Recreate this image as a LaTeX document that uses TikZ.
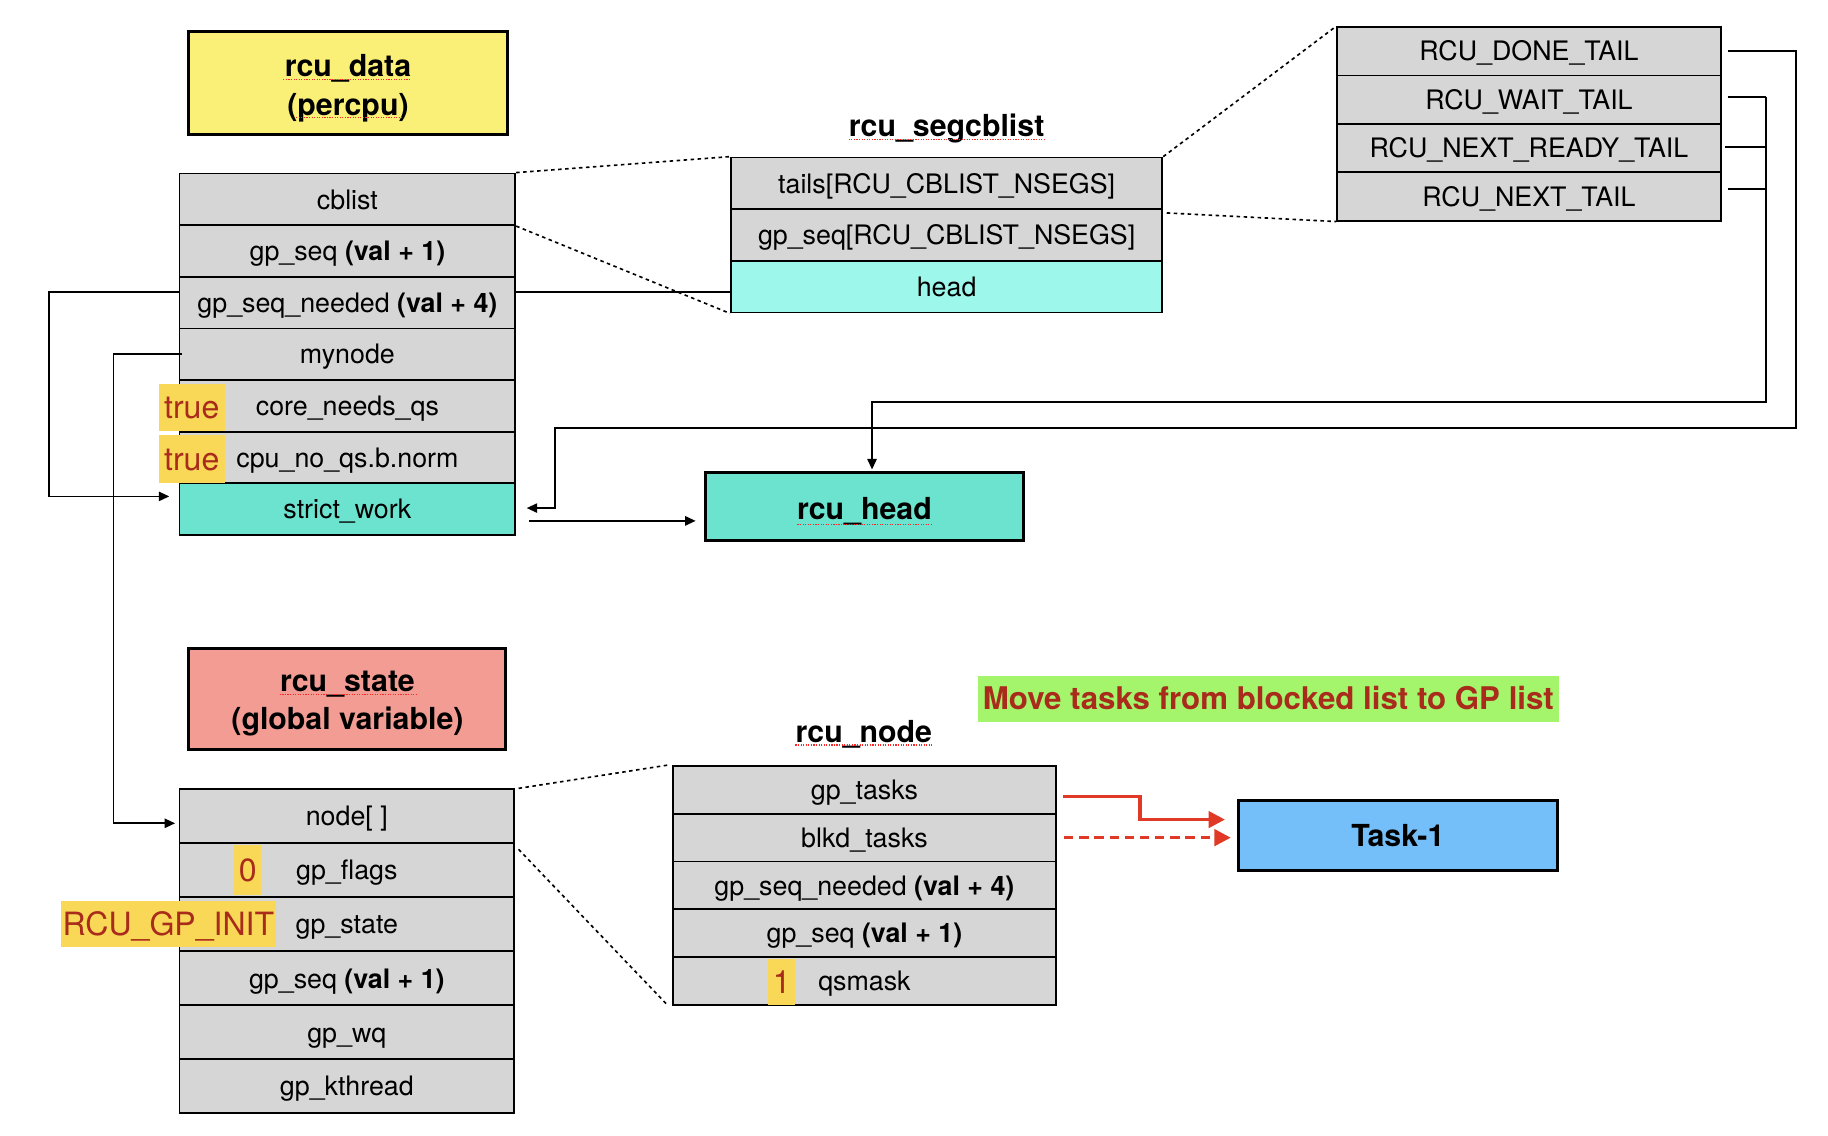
\documentclass[tikz,border=0pt]{standalone}
\usepackage{fontspec}
\setmainfont{TeX Gyre Heros}
\usetikzlibrary{arrows.meta}
\definecolor{rowgray}{HTML}{D6D6D6}
\definecolor{datayellow}{HTML}{FBF077}
\definecolor{hlyellow}{HTML}{F8D856}
\definecolor{darkred}{HTML}{A82B1B}
\definecolor{strictcyan}{HTML}{6BE3CF}
\definecolor{headcyan}{HTML}{9DF7EA}
\definecolor{salmon}{HTML}{F29C93}
\definecolor{lgreen}{HTML}{A4F56C}
\definecolor{taskblue}{HTML}{74BFF9}
\definecolor{arrred}{HTML}{E03A27}
\newcommand\rowfont{\fontsize{23}{27}\selectfont}
\newcommand\titlefont{\fontsize{26}{33}\selectfont\bfseries}
\newcommand\hlfont{\fontsize{27.5}{30}\selectfont}
\tikzset{
  row/.style={draw, line width=1.6pt, fill=rowgray, inner sep=0pt, font=\rowfont, text=black, text height=21pt, text depth=4.4pt},
  titlebox/.style={draw, line width=2.6pt, inner sep=0pt, font=\titlefont, align=center},
  titletext/.style={inner sep=0pt, font=\titlefont, align=center},
  lbl/.style={inner sep=0pt, font=\titlefont},
  hl/.style={fill=hlyellow, inner sep=0pt, text=darkred, font=\hlfont, text height=24pt, text depth=4.2pt},
  conn/.style={line width=1.4pt},
  arr/.style={conn, -{Triangle[length=9pt,width=8pt]}},
  dots/.style={line width=1.4pt, dash pattern=on 3pt off 3pt},
  redarr/.style={line width=3pt, draw=arrred, -{Triangle[length=14pt,width=14pt]}, arrred},
  squig/.style={draw=red!85, line width=1pt, dash pattern=on 1pt off 1.2pt}
}
\begin{document}
\begin{tikzpicture}[x=1pt,y=-1pt]
\useasboundingbox[fill=white] (0,0) rectangle (1568,974);

% ---------- rcu_data ----------
\node[titlebox, fill=datayellow, minimum width=273pt, minimum height=88pt] (rdata) at (298.5,71) {};
\node[titletext] (rdatatxt) at ([yshift=-4.5pt]rdata.center) {rcu\_data\\(percpu)};

\node[row, minimum width=288pt, minimum height=44.3pt] (cb) at (298,171) {cblist};
\node[row, minimum width=288pt, minimum height=44.3pt] (dgpseq) at (298,215.3) {gp\_seq \textbf{(val + 1)}};
\node[row, minimum width=288pt, minimum height=44.3pt] (needed) at (298,259.6) {gp\_seq\_needed \textbf{(val + 4)}};
\node[row, minimum width=288pt, minimum height=44.3pt] (mynode) at (298,303.9) {mynode};
\node[row, minimum width=288pt, minimum height=44.3pt] (coreqs) at (298,348.2) {core\_needs\_qs};
\node[row, minimum width=288pt, minimum height=44.3pt] (noqs) at (298,392.5) {cpu\_no\_qs.b.norm};
\node[row, fill=strictcyan, minimum width=288pt, minimum height=44.3pt] (strict) at (298,436.8) {strict\_work};

\node[hl, minimum width=57pt, minimum height=41pt] (true1) at (164.5,349.5) {true};
\node[hl, minimum width=57pt, minimum height=41pt] (true2) at (164.5,393.5) {true};

% ---------- rcu_segcblist ----------
\node[lbl] (segl) at (812,110.5) {rcu\_segcblist};
\node[row, minimum width=370pt, minimum height=44.3pt] (stails) at (812,157.3) {tails[RCU\_CBLIST\_NSEGS]};
\node[row, minimum width=370pt, minimum height=44.3pt] (sgpseq) at (812,201.6) {gp\_seq[RCU\_CBLIST\_NSEGS]};
\node[row, fill=headcyan, minimum width=370pt, minimum height=44.3pt] (shead) at (812,245.9) {head};

% ---------- tails ----------
\node[row, minimum width=329pt, minimum height=41.5pt] (done) at (1311.5,44) {RCU\_DONE\_TAIL};
\node[row, minimum width=329pt, minimum height=41.5pt] (wait) at (1311.5,85.5) {RCU\_WAIT\_TAIL};
\node[row, minimum width=329pt, minimum height=41.5pt] (nready) at (1311.5,127) {RCU\_NEXT\_READY\_TAIL};
\node[row, minimum width=329pt, minimum height=41.5pt] (next) at (1311.5,168.5) {RCU\_NEXT\_TAIL};

% ---------- rcu_head ----------
\node[titlebox, fill=strictcyan, minimum width=273pt, minimum height=59pt, text height=25pt, text depth=3pt] (rhead) at (741.5,434.5) {rcu\_head};

% ---------- rcu_state ----------
\node[titlebox, fill=salmon, minimum width=272pt, minimum height=87pt] (rstate) at (298,599.5) {};
\node[titletext] (rstatetxt) at ([yshift=-4pt]rstate.center) {rcu\_state\\(global variable)};

\node[row, minimum width=287pt, minimum height=46.33pt] (snode) at (297.5,700.2) {node[ ]};
\node[row, minimum width=287pt, minimum height=46.33pt] (sflags) at (297.5,746.5) {gp\_flags};
\node[row, minimum width=287pt, minimum height=46.33pt] (sstate) at (297.5,792.8) {gp\_state};
\node[row, minimum width=287pt, minimum height=46.33pt] (sseq) at (297.5,839.2) {gp\_seq \textbf{(val + 1)}};
\node[row, minimum width=287pt, minimum height=46.33pt] (swq) at (297.5,885.5) {gp\_wq};
\node[row, minimum width=287pt, minimum height=46.33pt] (skthread) at (297.5,931.8) {gp\_kthread};

\node[hl, minimum width=23pt, minimum height=43pt] (zero) at (212.5,746.5) {0};
\node[hl, minimum width=185pt, minimum height=39pt] (gpinit) at (144.5,792.5) {RCU\_GP\_INIT};

% ---------- rcu_node ----------
\node[lbl] (nodel) at (741,630) {rcu\_node};
\node[row, minimum width=329pt, minimum height=41pt] (ngptasks) at (741.5,677.5) {gp\_tasks};
\node[row, minimum width=329pt, minimum height=41pt] (nblkd) at (741.5,718.5) {blkd\_tasks};
\node[row, minimum width=329pt, minimum height=41pt] (nneeded) at (741.5,759.5) {gp\_seq\_needed \textbf{(val + 4)}};
\node[row, minimum width=329pt, minimum height=41pt] (nseq) at (741.5,800.5) {gp\_seq \textbf{(val + 1)}};
\node[row, minimum width=329pt, minimum height=41pt] (nqsmask) at (741.5,841.5) {qsmask};
\node[hl, minimum width=23pt, minimum height=39pt] (one) at (670.5,842.5) {1};

% ---------- label and task ----------
\node[fill=lgreen, minimum width=498pt, minimum height=39pt, inner sep=0pt, text=darkred, font=\fontsize{26.8}{30}\selectfont\bfseries, text height=22pt, text depth=3pt] (move) at (1088,599.5) {Move tasks from blocked list to GP list};
\node[titlebox, fill=taskblue, minimum width=274pt, minimum height=60pt, text height=22pt, text depth=3.3pt] (task) at (1199,717) {Task-1};

% ---------- dotted zoom lines ----------
\draw[dots] (cb.north east) -- (stails.north west);
\draw[dots] (cb.south east) -- (shead.south west);
\draw[dots] (stails.north east) -- (done.north west);
\draw[dots] ([xshift=3pt,yshift=-4pt]sgpseq.north east) -- (next.south west);
\draw[dots] ([xshift=3pt]snode.north east) -- ([xshift=-3pt]ngptasks.north west);
\draw[dots] ([xshift=3pt,yshift=-6pt]sflags.north east) -- ([xshift=-3pt]nqsmask.south west);

% ---------- connectors ----------
\draw[conn] ([yshift=9pt]needed.east) -- ([yshift=9pt]needed.east -| shead.west);
\draw[arr] ([yshift=9pt]needed.west) -- ++(-111,0) |- ([xshift=-8pt,yshift=11pt]strict.west);
\draw[arr] ([xshift=3pt]mynode.west) -- ++(-59,0) |- ([xshift=-3pt,yshift=-6pt]snode.west);
\draw[arr] ([xshift=5pt]done.east) -- ++(59,0) -- ++(0,323) -- ++(-1065,0) |- ([xshift=9pt,yshift=1pt]strict.east);
\draw[conn] ([xshift=5pt,yshift=2.5pt]wait.east) -- ++(33,0) coordinate (wj);
\draw[conn] ([xshift=3pt,yshift=1pt]nready.east) -- ([yshift=1pt]nready.east -| wj);
\draw[conn] ([xshift=5pt,yshift=6.5pt]next.east) -- ([yshift=6.5pt]next.east -| wj);
\draw[arr] (wj) -- ++(0,262) -| ([xshift=6.5pt,yshift=1pt]rhead.north);
\draw[arr] ([xshift=11pt,yshift=-10pt]strict.east) -- ([xshift=-7pt,yshift=-10pt]strict.east -| rhead.west);

\draw[redarr] ([xshift=5pt,yshift=-5.5pt]ngptasks.east) -- ++(66,0) |- ([xshift=-10pt,yshift=14pt]task.west);
\draw[redarr, dash pattern=on 8pt off 5pt] ([xshift=6pt]nblkd.east) -- ([xshift=-5pt]nblkd.east -| task.west);

% ---------- spell-check underlines ----------
\draw[squig] (243,68) -- (353,68);
\draw[squig] (254,101) -- (345,101);
\draw[squig] ([yshift=-2pt]segl.base west) -- ([yshift=-2pt]segl.base east);
\draw[squig] (684,450) -- (800,450);
\draw[squig] (240,596) -- (357,596);
\draw[squig] ([yshift=-2pt]nodel.base west) -- ([yshift=-2pt]nodel.base east);
\end{tikzpicture}
\end{document}
